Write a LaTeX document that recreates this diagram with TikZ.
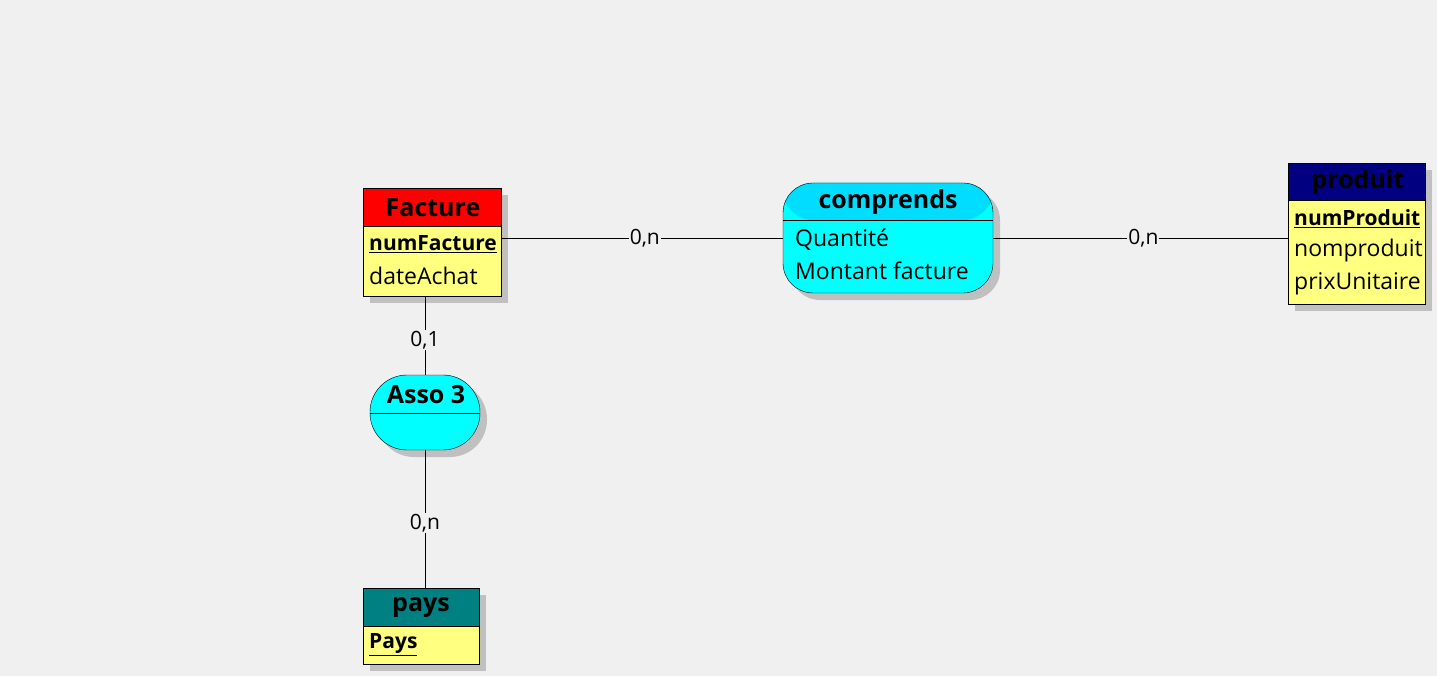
\documentclass[tikz,border=0pt]{standalone}
\usepackage{fontspec}
\setmainfont{Open Sans}
\usetikzlibrary{positioning,shadows}
\definecolor{bgray}{RGB}{240,240,240}
\definecolor{attyellow}{RGB}{255,255,128}
\definecolor{assocyan}{RGB}{0,255,255}
\definecolor{headcyan}{RGB}{0,221,255}
\definecolor{facred}{RGB}{255,0,0}
\definecolor{prodnavy}{RGB}{0,0,128}
\definecolor{paysteal}{RGB}{0,128,128}
\definecolor{shadowgray}{RGB}{192,192,192}
\tikzstyle{mcdbox} = [draw=black, inner sep=0pt, outer sep=0pt, anchor=north west,
  drop shadow={opacity=1, fill=shadowgray, shadow xshift=7pt, shadow yshift=-7pt}]
\tikzstyle{mcdtitle} = [inner sep=0pt, font=\fontsize{25}{30}\selectfont\bfseries]
\tikzstyle{attr} = [inner sep=0pt, anchor=west, font=\fontsize{23}{27}\selectfont]
\tikzstyle{keyattr} = [inner sep=0pt, anchor=west, font=\fontsize{21}{25}\selectfont\bfseries]
\tikzstyle{card} = [fill=bgray, inner sep=1pt]
\tikzset{
  headfill/.style 2 args={path picture={
    \fill[#1] (path picture bounding box.north west) rectangle ([yshift=-#2]path picture bounding box.north east);
    \draw ([yshift=-#2]path picture bounding box.north west) -- ([yshift=-#2]path picture bounding box.north east);}}
}
\begin{document}
\begin{tikzpicture}[x=1pt, y=-1pt, font=\fontsize{21}{25}\selectfont]
% Background
\fill[bgray] (0,0) rectangle (1437,676);

% Entity Facture
\node[mcdbox, fill=attyellow, headfill={facred}{38pt}, minimum width=138pt, minimum height=108pt] (facture) at (363,188) {};
\node[mcdtitle] (facturetitle) at (433,208) {Facture};
\node[keyattr] (numfacture) at (369,244) {\underline{numFacture}};
\node[attr] (dateachat) at (369,276) {dateAchat};

% Association comprends
\node[mcdbox, fill=assocyan, rounded corners=30pt, headfill={headcyan}{37pt}, minimum width=210pt, minimum height=110pt] (comprends) at (783,183) {};
\node[mcdtitle] (comprendstitle) at (888,202) {comprends};
\node[attr] (quantite) at (795,240) {Quantité};
\node[attr] (montant) at (795,271) {Montant facture};

% Entity produit
\node[mcdbox, fill=attyellow, headfill={prodnavy}{37pt}, minimum width=137pt, minimum height=141pt] (produit) at (1288,163) {};
\node[mcdtitle] (produittitle) at (1358,182) {produit};
\node[keyattr] (numproduit) at (1294,219) {\underline{numProduit}};
\node[attr] (nomproduit) at (1294,251) {nomproduit};
\node[attr] (prixunitaire) at (1294,284) {prixUnitaire};

% Association Asso 3
\node[mcdbox, fill=assocyan, rounded corners=37pt, headfill={assocyan}{38pt}, minimum width=110pt, minimum height=75pt] (asso) at (370,375) {};
\node[mcdtitle] (assotitle) at (426,395) {Asso 3};

% Entity pays
\node[mcdbox, fill=attyellow, headfill={paysteal}{38pt}, minimum width=116pt, minimum height=76pt] (pays) at (363,588) {};
\node[mcdtitle] (paystitle) at (421,608) {pays};
\node[keyattr] (payskey) at (369,645) {\underline{Pays}};

% Links
\draw (facture.east |- comprends.west) -- node[card, pos=0.51] {0,n} (comprends.west);
\draw (comprends.east) -- node[card, pos=0.51] {0,n} (produit.west |- comprends.east);
\draw (asso.north |- facture.south) -- node[card, pos=0.56] {0,1} (asso.north);
\draw (asso.south) -- node[card, pos=0.53] {0,n} (pays.north -| asso.south);
\end{tikzpicture}
\end{document}
